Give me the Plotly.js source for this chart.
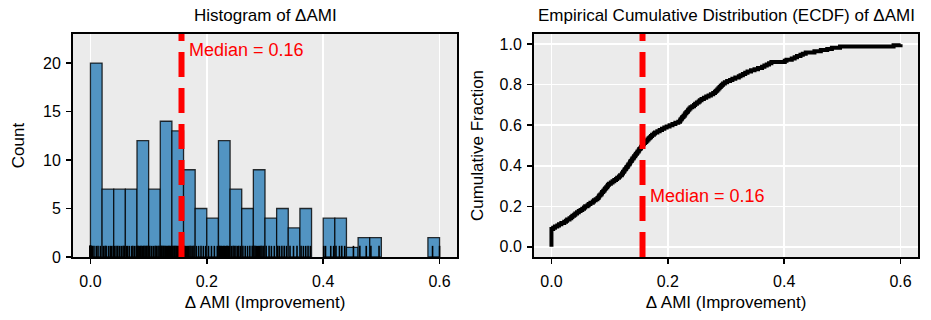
<!DOCTYPE html>
<html><head><meta charset="utf-8">
<script src="https://cdn.plot.ly/plotly-3.0.1.min.js"></script>
<style>html,body{margin:0;padding:0;background:#fff}#chart{width:931px;height:320px}</style>
</head><body><div id="chart"></div>
<script>
const deltaAMI = [
  0,0,0,0,0,0,0,0,0,0,0,0,0,0,0, 0.003,0.006,0.010,0.013,0.017,
  0.022,0.025,0.027,0.031,0.034,0.036,0.039,
  0.041,0.044,0.047,0.050,0.053,0.056,0.058,
  0.062,0.064,0.067,0.071,0.073,0.076,0.079,
  0.081,0.082,0.084,0.086,0.087,0.089,0.091,0.092,0.094,0.096,0.097,0.099,
  0.102,0.105,0.108,0.111,0.113,0.116,0.118,
  0.121,0.122,0.123,0.125,0.126,0.128,0.129,0.131,0.132,0.134,0.135,0.136,0.138,0.139,
  0.141,0.142,0.144,0.145,0.147,0.148,0.150,0.151,0.153,0.154,0.156,0.157,0.159,
  0.161,0.163,0.165,0.167,0.169,0.171,0.173,0.176,0.178,
  0.182,0.186,0.190,0.194,0.198,
  0.203,0.208,0.213,0.218,
  0.221,0.222,0.224,0.225,0.227,0.229,0.230,0.232,0.234,0.235,0.237,0.239,
  0.242,0.245,0.247,0.250,0.253,0.255,0.258,
  0.262,0.266,0.270,0.274,0.278,
  0.281,0.283,0.285,0.287,0.289,0.291,0.293,0.295,0.298,
  0.302,0.307,0.311,0.316,
  0.322,0.325,0.329,0.333,0.337,
  0.343,0.349,0.355,
  0.362,0.366,0.370,0.374,0.378,
  0.401,0.404,0.413,0.418,
  0.422,0.428,0.432,0.437,
  0.452,
  0.463,0.474,
  0.482,0.496,
  0.588,0.600
];
const binStart = 0, binSize = 0.02, binCount = 30;
const xTickVals = [0, 0.2, 0.4, 0.6];
const countTickVals = [0, 5, 10, 15, 20];
const fracTickVals = [0, 0.2, 0.4, 0.6, 0.8, 1.0];

// histogram counts
const counts = new Array(binCount).fill(0);
deltaAMI.forEach(v => {
  let i = Math.floor((v - binStart) / binSize + 1e-9);
  if (i >= binCount) i = binCount - 1;
  counts[i]++;
});
const centers = counts.map((_, i) => binStart + (i + 0.5) * binSize);
const barY = counts.map(c => c === 0 ? null : c);

const sorted = deltaAMI.slice().sort((a, b) => a - b);
const n = sorted.length;
const median = n % 2 ? sorted[(n - 1) / 2] : (sorted[n / 2 - 1] + sorted[n / 2]) / 2;
const ecdfX = [sorted[0]].concat(sorted);
const ecdfY = [0].concat(sorted.map((_, i) => (i + 1) / n));

const yMaxHist = 23;
const rugH = 0.05 * yMaxHist;
const rugX = [], rugY = [];
deltaAMI.forEach(v => { rugX.push(v, v, null); rugY.push(0, rugH, null); });

const FONT = 'Liberation Sans, Arial, Helvetica, sans-serif';
const BG = '#ebebeb';

const traces = [
  {type: 'bar', x: centers, y: barY, width: binSize, xaxis: 'x', yaxis: 'y',
   marker: {color: 'rgb(82,148,194)', line: {color: 'rgba(0,0,0,0.8)', width: 1.3}},
   hoverinfo: 'x+y', showlegend: false},
  {type: 'scatter', mode: 'lines', x: rugX, y: rugY, xaxis: 'x', yaxis: 'y',
   line: {color: '#000', width: 1.6}, showlegend: false, hoverinfo: 'skip'},
  {type: 'scatter', mode: 'lines', x: ecdfX, y: ecdfY, xaxis: 'x2', yaxis: 'y2',
   line: {color: '#000', width: 4, shape: 'hv'}, showlegend: false}
];

const axisCommon = {
  showline: true, mirror: true, linecolor: '#000', linewidth: 2,
  ticks: 'outside', ticklen: 5, tickwidth: 1.5, tickcolor: '#000',
  zeroline: false, tickfont: {family: FONT, size: 16, color: '#000'},
  gridcolor: '#fff', gridwidth: 1.5
};
const medLabel = 'Median = ' + median.toFixed(2);

const layout = {
  width: 931, height: 320,
  margin: {l: 0, r: 0, t: 0, b: 0},
  paper_bgcolor: '#fff', plot_bgcolor: BG,
  bargap: 0,
  font: {family: FONT, color: '#000'},
  xaxis: Object.assign({}, axisCommon, {domain: [73/931, 457/931], range: [-0.03, 0.63],
    tickvals: xTickVals, tickformat: '.1f', showgrid: true, anchor: 'y', ticklabelstandoff: 4,
    title: {text: 'Δ AMI (Improvement)', font: {family: FONT, size: 17}, standoff: 7}}),
  yaxis: Object.assign({}, axisCommon, {domain: [63/320, 286/320], range: [0, yMaxHist],
    tickvals: countTickVals, showgrid: false, anchor: 'x', ticklabelstandoff: 2,
    title: {text: 'Count', font: {family: FONT, size: 17}, standoff: 14}}),
  xaxis2: Object.assign({}, axisCommon, {domain: [534/931, 918/931], range: [-0.03, 0.63],
    tickvals: xTickVals, tickformat: '.1f', showgrid: true, anchor: 'y2', ticklabelstandoff: 4,
    title: {text: 'Δ AMI (Improvement)', font: {family: FONT, size: 17}, standoff: 7}}),
  yaxis2: Object.assign({}, axisCommon, {domain: [63/320, 286/320], range: [-0.05, 1.05],
    tickvals: fracTickVals, tickformat: '.1f', showgrid: true, anchor: 'x2', ticklabelstandoff: 2,
    title: {text: 'Cumulative Fraction', font: {family: FONT, size: 17}, standoff: 12}}),
  shapes: [
    {type: 'line', xref: 'x', yref: 'y domain', x0: median, x1: median, y0: 0, y1: 1,
     line: {color: 'red', width: 6, dash: '25px,11px'}, layer: 'above'},
    {type: 'line', xref: 'x2', yref: 'y2 domain', x0: median, x1: median, y0: 0, y1: 1,
     line: {color: 'red', width: 6, dash: '25px,11px'}, layer: 'above'}
  ],
  annotations: [
    {text: 'Histogram of ΔAMI', xref: 'paper', yref: 'paper', x: 265/931, y: 1 - 15/320,
     xanchor: 'center', yanchor: 'middle', showarrow: false, font: {family: FONT, size: 17}},
    {text: 'Empirical Cumulative Distribution (ECDF) of ΔAMI', xref: 'paper', yref: 'paper',
     x: 726/931, y: 1 - 15/320, xanchor: 'center', yanchor: 'middle', showarrow: false,
     font: {family: FONT, size: 17}},
    {text: medLabel, xref: 'x', yref: 'y domain', x: median + 0.01, y: 0.93,
     xanchor: 'left', yanchor: 'middle', showarrow: false, font: {family: FONT, size: 18, color: 'red'}},
    {text: medLabel, xref: 'x2', yref: 'y2', x: median + 0.01, y: 0.25,
     xanchor: 'left', yanchor: 'middle', showarrow: false, font: {family: FONT, size: 18, color: 'red'}}
  ]
};

Plotly.newPlot('chart', traces, layout, {staticPlot: true, displayModeBar: false});
</script>
</body></html>
